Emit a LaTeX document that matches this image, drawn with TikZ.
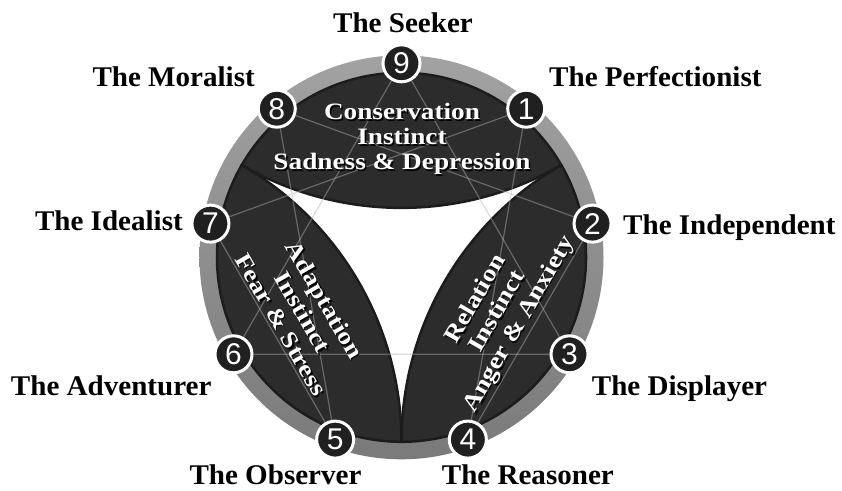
\documentclass[tikz,border=0pt]{standalone}
\usepackage{fontspec}
\newfontfamily\numfont{Liberation Sans}
\newfontfamily\labelfont[FakeStretch=1.02]{Liberation Serif}
\newfontfamily\capfont[FakeStretch=1.16]{Liberation Serif}

\definecolor{lensfill}{HTML}{2C2C2C}
\definecolor{lensedge}{HTML}{1C1C1C}
\definecolor{ringtop}{HTML}{A2A2A2}
\definecolor{ringbot}{HTML}{7A7A7A}
\definecolor{numfill}{HTML}{202020}

\pgfdeclarelayer{back}
\pgfdeclarelayer{mid}
\pgfsetlayers{back,mid,main}

\tikzset{
  lens/.style={fill=lensfill, draw=lensedge, line width=2.5pt, line join=round},
  numdot/.style={circle, minimum size=37pt, inner sep=0pt, fill=numfill,
    draw=white, line width=3pt, text=white,
    font=\numfont\fontsize{30}{30}\selectfont},
  typelabel/.style={inner sep=0pt, font=\labelfont\bfseries\fontsize{28.5}{30}\selectfont},
  instinct/.style={inner sep=0pt, align=center, text=white,
    font=\capfont\bfseries\fontsize{23.5}{25}\selectfont},
  instinctshadow/.style={instinct, text=black, text opacity=0.9},
  ennea/.style={draw=gray!60, draw opacity=0.45, line width=1.2pt},
}

\begin{document}
\begin{tikzpicture}[x=1pt, y=1pt]
  \useasboundingbox (-401.5,-232.7) rectangle (440.5,257.3);
  \def\rd{184.5}

  % the nine points of the enneagram
  \foreach \k in {1,...,9}
    \node[numdot] (n\k) at ({90-40*\k}:194) {\k};

  \begin{pgfonlayer}{back}
    % grey outer ring
    \shade[top color=ringtop, bottom color=ringbot, even odd rule]
      (0,0) circle[radius=202] (0,0) circle[radius=\rd];
    % three instinct lenses
    \foreach \rot in {0,120,240} {
      \begin{scope}[rotate=\rot]
        \filldraw[lens] (150:\rd) arc[start angle=150, end angle=30, radius=\rd]
          arc[start angle=-60, end angle=-120, radius=319.6] -- cycle;
      \end{scope}
    }
  \end{pgfonlayer}

  \begin{pgfonlayer}{mid}
    % inner triangle and hexad
    \draw[ennea] (n9) -- (n3) -- (n6) -- (n9);
    \draw[ennea] (n1) -- (n4) -- (n2) -- (n8) -- (n5) -- (n7) -- (n1);

    % instinct captions with drop shadow
    \node[instinctshadow] (tcs) at (2,116.5) {Conservation\\Instinct\\Sadness \& Depression};
    \node[instinct] (tc) at (0.5,118) {Conservation\\Instinct\\Sadness \& Depression};
    \node[instinctshadow, rotate=-60] (tas) at (-97,-56.2) {Adaptation\\Instinct\\Fear \& Stress};
    \node[instinct, rotate=-60] (ta) at (-98.5,-54.7) {Adaptation\\Instinct\\Fear \& Stress};
    \node[instinctshadow, rotate=60] (trs) at (98,-56.2) {Relation\\Instinct\\Anger \& Anxiety};
    \node[instinct, rotate=60] (tr) at (96.5,-54.7) {Relation\\Instinct\\Anger \& Anxiety};
  \end{pgfonlayer}

  % type names
  \node[typelabel, anchor=base]      (l9) at (1.5,224.3)     {The Seeker};
  \node[typelabel, anchor=base west] (l1) at (147.5,170.6)   {The Perfectionist};
  \node[typelabel, anchor=base west] (l2) at (221.5,22.7)    {The Independent};
  \node[typelabel, anchor=base west] (l3) at (190.2,-137.7)  {The Displayer};
  \node[typelabel, anchor=base west, text depth=0pt] (l4) at (40.2,-227)  {The Reasoner};
  \node[typelabel, anchor=base east, text depth=0pt] (l5) at (-39.8,-227) {The Observer};
  \node[typelabel, anchor=base east] (l6) at (-189.8,-137.7) {The Adventurer};
  \node[typelabel, anchor=base east] (l7) at (-218.5,26.8)   {The Idealist};
  \node[typelabel, anchor=base east] (l8) at (-146.5,170.6)  {The Moralist};
\end{tikzpicture}
\end{document}
